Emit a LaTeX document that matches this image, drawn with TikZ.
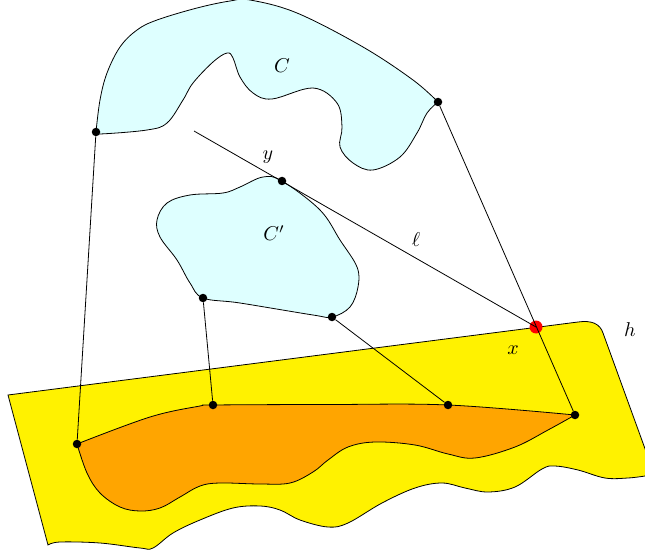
\documentclass[tikz,border=0pt]{standalone}
\definecolor{paleCyan}{RGB}{222,255,255}
\definecolor{deepOrange}{RGB}{255,165,0}
\tikzset{
  dotnode/.style={circle,fill=black,inner sep=0pt,minimum size=8.5pt},
  reddot/.style={circle,fill=red,inner sep=0pt,minimum size=13pt},
  lbl/.style={inner sep=0pt,scale=2},
  outline/.style={draw=black,line width=0.8pt},
  conn/.style={draw=black,line width=0.8pt}
}
\begin{document}
\begin{tikzpicture}[x=1pt,y=-1pt]
\useasboundingbox (0,0) rectangle (645,556);
% plane h
\path[outline,fill=yellow] (8,395) -- (578,322) .. controls (592,320) and (600,324) .. (603,333) -- (660,490) -- (660,476)
  -- plot[smooth,tension=0.6] coordinates {(645,476) (628,478) (605,478) (578,470) (555,466) (542,469) (515,487) (488,492) (465,488) (442,483) (415,488) (382,503) (348,523) (328,527) (300,520) (280,510) (260,506) (233,508) (200,520) (173,533) (153,548) (140,548) (100,543) (60,542) (48,545)} -- cycle;
% orange region
\path[outline,fill=deepOrange] plot[smooth,tension=0.6] coordinates {(77,444) (150,417) (200,406) (213,405) (330,404.5) (448,405) (575,415)}
  -- plot[smooth,tension=0.6] coordinates {(575,415) (548,430) (515,447) (475,458) (448,454) (415,445) (375,442) (348,447) (328,460) (313,472) (290,483) (260,484) (220,483) (200,486) (180,497) (160,508) (140,511) (120,507) (100,493) (87,473) (77,444)} -- cycle;
% region C
\path[outline,fill=paleCyan] plot[smooth,tension=0.6] coordinates {(96,132) (100,100) (107,73) (120,47) (137,30) (157,20) (197,8) (230,1) (250,0) (297,13) (363,47) (413,80) (438,102)}
  -- plot[smooth,tension=0.6] coordinates {(438,102) (427,113) (417,133) (400,157) (373,170) (353,163) (340,147) (342,127) (337,103) (313,88) (272,99) (253,93) (240,77) (233,58) (227,53) (213,62) (193,83) (183,100) (167,123) (147,130) (100,134) (96,132)} -- cycle;
% region C'
\path[outline,fill=paleCyan] plot[smooth cycle,tension=0.6] coordinates {(282,181) (320,210) (340,240) (357,267) (358,287) (350,307) (332,317) (313,315) (240,303) (203,298) (190,283) (177,260) (160,237) (157,220) (167,203) (190,195) (223,193) (240,187) (263,177)};
% nodes
\node[dotnode] (cL) at (96,132) {};
\node[dotnode] (cR) at (438,102) {};
\node[dotnode] (y) at (282,181) {};
\node[dotnode] (pL) at (203,298) {};
\node[dotnode] (pR) at (332,317) {};
\node[dotnode] (o1) at (77,444) {};
\node[dotnode] (o2) at (213,405) {};
\node[dotnode] (o3) at (448,405) {};
\node[dotnode] (o4) at (575,415) {};
\node[reddot] (x) at (536,327) {};
\coordinate (lstart) at (194,131);
% connectors
\draw[conn] (cL) -- (o1);
\draw[conn] (pL) -- (o2);
\draw[conn] (pR) -- (o3);
\draw[conn] (cR) -- (o4);
\draw[conn] (lstart) -- (x.center);
% labels
\node[lbl] (labC) at (282,66) {$C$};
\node[lbl] (labCp) at (274,233) {$C'$};
\node[lbl] (laby) at (268,157) {$y$};
\node[lbl] (labl) at (416,240) {$\ell$};
\node[lbl] (labx) at (513,350) {$x$};
\node[lbl] (labh) at (630,330) {$h$};
\end{tikzpicture}
\end{document}
